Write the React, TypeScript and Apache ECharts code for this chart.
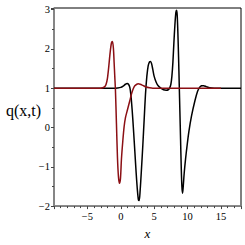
import React, { useEffect, useRef } from "react";
import * as echarts from "echarts";

const xTickLabels = ["-5", "0", "5", "10", "15"];

const blackX = [-10, -1, -0.5, 0, 0.4, 0.7, 0.95, 1.15, 1.35, 1.5, 1.7, 1.9, 2.1, 2.3, 2.5, 2.65, 2.75, 2.9, 3.1, 3.3, 3.5, 3.7, 3.9, 4.1, 4.3, 4.46, 4.6, 4.8, 5.0, 5.3, 5.6, 6.0, 6.4, 6.8, 7.1, 7.3, 7.5, 7.65, 7.8, 7.95, 8.1, 8.25, 8.36, 8.45, 8.55, 8.65, 8.75, 8.85, 8.95, 9.05, 9.15, 9.25, 9.35, 9.5, 9.7, 9.9, 10.2, 10.6, 11.1, 11.5, 11.8, 12.1, 12.4, 12.8, 13.3, 14, 18];
const blackY = [1, 1, 1.005, 1.02, 1.06, 1.1, 1.12, 1.1, 1.02, 0.85, 0.45, -0.05, -0.6, -1.15, -1.62, -1.85, -1.86, -1.6, -1.05, -0.45, 0.2, 0.85, 1.3, 1.57, 1.67, 1.68, 1.63, 1.47, 1.3, 1.15, 1.06, 1.0, 0.96, 0.95, 0.96, 1.0, 1.1, 1.3, 1.65, 2.15, 2.6, 2.93, 2.98, 2.85, 2.4, 1.8, 1.1, 0.4, -0.3, -1.0, -1.5, -1.67, -1.5, -1.15, -0.8, -0.5, -0.1, 0.3, 0.68, 0.92, 1.02, 1.06, 1.065, 1.04, 1.01, 1.0, 1];

const redX = [-10, -3, -2.7, -2.4, -2.2, -2.0, -1.8, -1.6, -1.4, -1.25, -1.1, -1.0, -0.9, -0.8, -0.65, -0.5, -0.35, -0.2, -0.05, 0.1, 0.3, 0.5, 0.7, 1.0, 1.35, 1.6, 1.85, 2.1, 2.4, 2.6, 2.9, 3.3, 3.8, 4.3, 4.8, 15];
const redY = [1, 1, 1.01, 1.04, 1.1, 1.25, 1.55, 1.9, 2.15, 2.19, 2.0, 1.66, 1.3, 0.95, 0.1, -0.75, -1.25, -1.42, -1.3, -0.8, -0.35, 0.02, 0.25, 0.45, 0.68, 0.85, 0.98, 1.06, 1.1, 1.11, 1.1, 1.07, 1.03, 1.01, 1.0, 1];

const pairs = (xs: number[], ys: number[]) => xs.map((x, i) => [x, ys[i]]);

export default function App() {
  const ref = useRef<HTMLDivElement>(null);
  useEffect(() => {
    if (!ref.current) return;
    const chart = echarts.init(ref.current, null, { renderer: "svg" });
    const font = "'Liberation Serif', 'DejaVu Serif', serif";
    chart.setOption({
      animation: false,
      backgroundColor: "#fff",
      grid: { left: 54, top: 8, right: 4, bottom: 33, show: true, borderColor: "#000", borderWidth: 1 },
      xAxis: {
        type: "value",
        min: -10,
        max: 18,
        interval: 5,
        name: "x",
        nameLocation: "middle",
        nameGap: 16,
        nameTextStyle: { fontFamily: font, fontStyle: "italic", fontSize: 13, color: "#000" },
        axisLine: { show: true, onZero: false, lineStyle: { color: "#888", width: 1.5 } },
        axisTick: { show: true, length: 3, lineStyle: { color: "#444" } },
        minorTick: { show: true, splitNumber: 5, length: 2, lineStyle: { color: "#444" } },
        splitLine: { show: false },
        axisLabel: {
          margin: 5,
          fontFamily: font,
          fontSize: 10.5,
          color: "#000",
          formatter: (v: number) => (xTickLabels.includes(String(v)) ? String(v).replace("-", "\u2212") : ""),
        },
      },
      yAxis: {
        type: "value",
        min: -2,
        max: 3.04,
        interval: 1,
        axisLine: { show: true, onZero: false, lineStyle: { color: "#888", width: 1.5 } },
        axisTick: { show: true, length: 3, lineStyle: { color: "#444" } },
        minorTick: { show: true, splitNumber: 2, length: 2, lineStyle: { color: "#444" } },
        splitLine: { show: false },
        axisLabel: {
          margin: 4,
          fontFamily: font,
          fontSize: 10.5,
          color: "#000",
          formatter: (v: number) => (Number.isInteger(v) ? String(v).replace("-", "\u2212") : ""),
        },
      },
      graphic: [
        {
          type: "text",
          left: 6,
          top: 102,
          style: { text: "q(x,t)", fontFamily: font, fontSize: 16, fill: "#000" },
        },
      ],
      series: [
        {
          type: "line",
          data: pairs(blackX, blackY),
          showSymbol: false,
          smooth: 0.3,
          lineStyle: { color: "#000", width: 1.5 },
        },
        {
          type: "line",
          data: pairs(redX, redY),
          showSymbol: false,
          smooth: 0.3,
          lineStyle: { color: "#8b0f14", width: 1.5 },
        },
      ],
    });
    return () => chart.dispose();
  }, []);
  return <div ref={ref} style={{ width: 245, height: 245, position: "absolute", left: 0, top: 0 }} />;
}
